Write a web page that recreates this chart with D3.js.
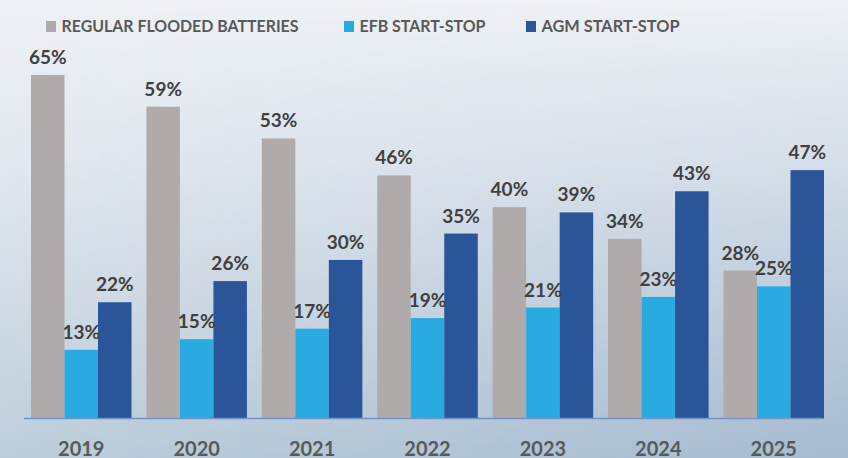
<!DOCTYPE html>
<html>
<head>
<meta charset="utf-8">
<script src="https://cdn.jsdelivr.net/npm/d3@7"></script>
<style>
html,body{margin:0;padding:0;overflow:hidden;}
svg{display:block;}
</style>
</head>
<body>
<svg id="chart" width="848" height="458"></svg>
<script>
const years = ["2019","2020","2021","2022","2023","2024","2025"];
const regular = [65, 59, 53, 46, 40, 34, 28];
const efb = [13, 15, 17, 19, 21, 23, 25];
const agm = [22, 26, 30, 35, 39, 43, 47];
const seriesNames = ["REGULAR FLOODED BATTERIES", "EFB START-STOP", "AGM START-STOP"];
const seriesColors = ["#b0abaa", "#29abe2", "#2a5599"];

const W = 848, H = 458;
const svg = d3.select("#chart");
const defs = svg.append("defs");
const g1 = defs.append("linearGradient").attr("id","bgv").attr("x1",0).attr("y1",0).attr("x2",0).attr("y2",1);
g1.append("stop").attr("offset","0").attr("stop-color","#eef1f6");
g1.append("stop").attr("offset","0.35").attr("stop-color","#e2e8ef");
g1.append("stop").attr("offset","1").attr("stop-color","#bdcedb");
const g2 = defs.append("linearGradient").attr("id","bgh").attr("x1",0).attr("y1",0).attr("x2",1).attr("y2",0);
g2.append("stop").attr("offset","0").attr("stop-color","#7d99bf").attr("stop-opacity",0);
g2.append("stop").attr("offset","1").attr("stop-color","#7d99bf").attr("stop-opacity",0.35);
const m = defs.append("linearGradient").attr("id","mg").attr("x1",0).attr("y1",0).attr("x2",0).attr("y2",1);
m.append("stop").attr("offset","0").attr("stop-color","#000");
m.append("stop").attr("offset","1").attr("stop-color","#fff");
defs.append("mask").attr("id","mask").append("rect").attr("width",W).attr("height",H).attr("fill","url(#mg)");

svg.append("rect").attr("width",W).attr("height",H).attr("fill","url(#bgv)");
svg.append("rect").attr("width",W).attr("height",H).attr("fill","url(#bgh)").attr("mask","url(#mask)");

const x0 = d3.scaleBand().domain(years).range([23.5, 831.5]).paddingInner(0.129).paddingOuter(0.065);
const x1 = d3.scaleBand().domain([0,1,2]).range([0, x0.bandwidth()]);
const y = d3.scaleLinear().domain([0, 65]).range([418.5, 75]);

const data = years.map((yr,i)=>({year:yr, vals:[regular[i], efb[i], agm[i]]}));

const groups = svg.append("g").selectAll("g").data(data).join("g")
  .attr("transform", d=>`translate(${x0(d.year)},0)`);

groups.selectAll("rect").data(d=>d.vals.map((v,k)=>({v,k}))).join("rect")
  .attr("x", d=>x1(d.k))
  .attr("width", x1.bandwidth())
  .attr("y", d=>y(d.v))
  .attr("height", d=>y(0)-y(d.v))
  .attr("fill", d=>seriesColors[d.k]);

groups.selectAll("text").data(d=>d.vals.map((v,k)=>({v,k}))).join("text")
  .attr("x", d=>x1(d.k)+x1.bandwidth()/2)
  .attr("y", d=>y(d.v)-11)
  .attr("text-anchor","middle")
  .attr("font-family","Lato, 'Open Sans', sans-serif")
  .attr("font-weight","bold")
  .attr("font-size","19px")
  .attr("fill","#404040")
  .text(d=>d.v+"%");

// axis line
svg.append("line").attr("x1",24).attr("x2",822).attr("y1",418.5).attr("y2",418.5)
  .attr("stroke","#7294cc").attr("stroke-width",1.5);

// x axis labels
const xAxis = d3.axisBottom(x0).tickSize(0).tickPadding(0);
const ax = svg.append("g").attr("transform","translate(0,438)").call(xAxis);
ax.select(".domain").remove();
ax.selectAll("text")
  .attr("dy", null).attr("y", 18)
  .attr("font-family","Lato, 'Open Sans', sans-serif")
  .attr("font-weight","bold")
  .attr("font-size","20px")
  .attr("fill","#595959");

// legend
const legX = [46, 344, 526];
const legW = [237, 126, 138];
const leg = svg.append("g");
seriesNames.forEach((n,i)=>{
  leg.append("rect").attr("x",legX[i]).attr("y",21).attr("width",10).attr("height",11).attr("fill",seriesColors[i]);
  leg.append("text").attr("x",legX[i]+15.5).attr("y",31.7)
    .attr("font-family","Lato, 'Open Sans', sans-serif")
    .attr("font-weight","bold")
    .attr("font-size","17px")
    .attr("fill","#595959")
    .attr("textLength",legW[i]).attr("lengthAdjust","spacingAndGlyphs")
    .text(n);
});
</script>
</body>
</html>
